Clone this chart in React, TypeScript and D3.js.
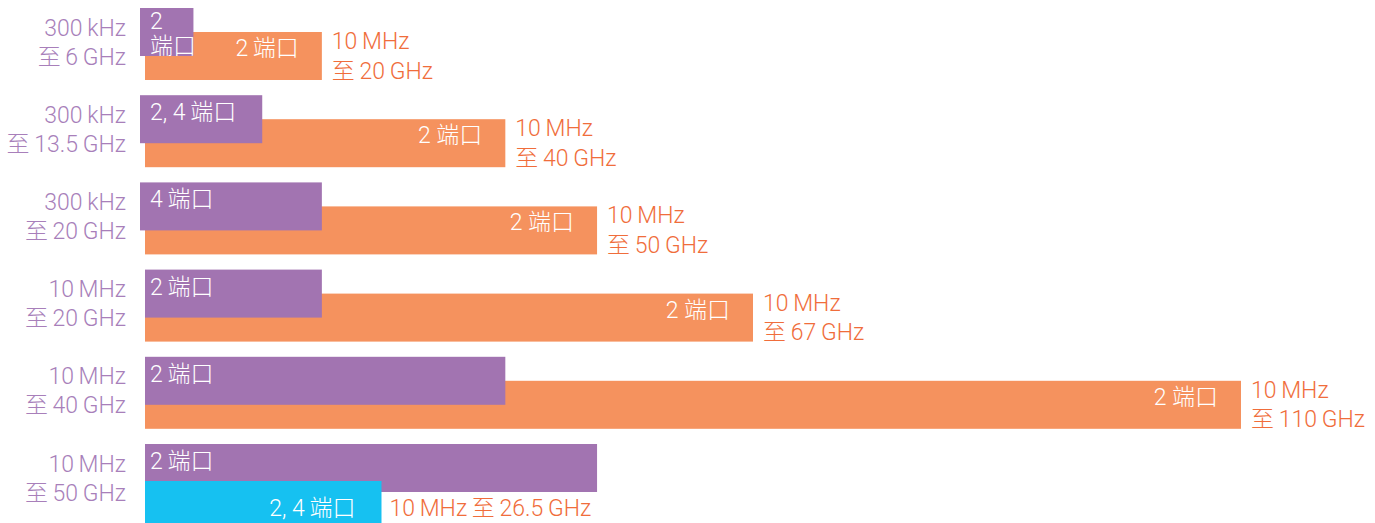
import React from "react";
import * as d3 from "d3";

// ---- data ----
const rowKeys = ["r1", "r2", "r3", "r4", "r5", "r6"];
const purpleStartGHz = [0.0003, 0.0003, 0.0003, 0.01, 0.01, 0.01];
const purpleEndGHz = [6, 13.5, 20, 20, 40, 50];
const purpleRangeLine1 = ["300\u2009kHz", "300\u2009kHz", "300\u2009kHz", "10\u2009MHz", "10\u2009MHz", "10\u2009MHz"];
const purpleRangeLine2 = ["至\u20096\u2009GHz", "至\u200913.5\u2009GHz", "至\u200920\u2009GHz", "至\u200920\u2009GHz", "至\u200940\u2009GHz", "至\u200950\u2009GHz"];
const purplePorts = [["2", "端口"], ["2, 4\u2009端口"], ["4\u2009端口"], ["2\u2009端口"], ["2\u2009端口"], ["2\u2009端口"]];

const orangeStartGHz = [0.01, 0.01, 0.01, 0.01, 0.01];
const orangeEndGHz = [20, 40, 50, 67, 110];
const orangePorts = ["2\u2009端口", "2 端口", "2 端口", "2 端口", "2 端口"];
const orangeRangeLine1 = ["10\u2009MHz", "10\u2009MHz", "10\u2009MHz", "10\u2009MHz", "10\u2009MHz"];
const orangeRangeLine2 = ["至\u200920\u2009GHz", "至\u200940\u2009GHz", "至\u200950\u2009GHz", "至\u200967\u2009GHz", "至\u2009110\u2009GHz"];

const cyanRow = 5;
const cyanStartGHz = 0.01;
const cyanEndGHz = 26.5;
const cyanPorts = "2, 4\u2009端口";
const cyanRange = "10\u2009MHz\u2009至\u200926.5\u2009GHz";

// ---- style ----
const W = 1375;
const H = 523;
const PURPLE = "#a274b1";
const PURPLE_TEXT = "#a87fba";
const ORANGE = "#f5925e";
const ORANGE_TEXT = "#f06d3b";
const CYAN = "#16c1f1";
const BAR_H = 48;
const FONT = "Roboto, 'Noto Sans CJK SC', sans-serif";
const FS = 23;

export default function App() {
  const y = d3.scalePoint<string>().domain(rowKeys).range([8, 444]);
  const xEnd = d3.scaleLinear().domain([0, 67, 110]).range([138.4, 753, 1241]);
  const xStart = d3.scaleLog().domain([0.0003, 0.01]).range([140, 145]);

  const textProps = { fontFamily: FONT, fontWeight: 300, fontSize: FS } as const;

  return (
    <svg
      width={W}
      height={H}
      style={{ position: "absolute", left: 0, top: 0, background: "#fff" }}
    >
      {/* orange bars (below purple) */}
      {orangeEndGHz.map((e, i) => {
        const top = (y(rowKeys[i]) as number) + 24;
        const x0 = xStart(orangeStartGHz[i]);
        return (
          <rect key={"o" + i} x={x0} y={top} width={xEnd(e) - x0} height={BAR_H} fill={ORANGE} />
        );
      })}
      {/* purple bars */}
      {purpleEndGHz.map((e, i) => {
        const top = y(rowKeys[i]) as number;
        const x0 = xStart(purpleStartGHz[i]);
        return (
          <rect key={"p" + i} x={x0} y={top} width={xEnd(e) - x0} height={BAR_H} fill={PURPLE} />
        );
      })}
      {/* cyan bar */}
      {(() => {
        const top = (y(rowKeys[cyanRow]) as number) + 37;
        const x0 = xStart(cyanStartGHz);
        return <rect x={x0} y={top} width={xEnd(cyanEndGHz) - x0} height={BAR_H} fill={CYAN} />;
      })()}

      {/* left labels */}
      {rowKeys.map((k, i) => {
        const top = y(k) as number;
        return (
          <g key={"l" + i} {...textProps} fill={PURPLE_TEXT} textAnchor="end">
            <text x={126} y={top + 27.5}>{purpleRangeLine1[i]}</text>
            <text x={126} y={top + 56.5}>{purpleRangeLine2[i]}</text>
          </g>
        );
      })}

      {/* purple inside labels */}
      {purplePorts.map((lines, i) => {
        const top = y(rowKeys[i]) as number;
        return (
          <g key={"pl" + i} {...textProps} fill="#fff">
            {lines.length === 1 ? (
              <text x={150} y={top + 25}>{lines[0]}</text>
            ) : (
              lines.map((t, j) => (
                <text key={j} x={150} y={top + 21 + j * 25}>{t}</text>
              ))
            )}
          </g>
        );
      })}

      {/* orange labels */}
      {orangeEndGHz.map((e, i) => {
        const top = (y(rowKeys[i]) as number) + 24;
        const xe = xEnd(e);
        return (
          <g key={"ol" + i} {...textProps}>
            <text x={xe - 23} y={top + 24} fill="#fff" textAnchor="end">{orangePorts[i]}</text>
            <text x={xe + 10} y={top + 17} fill={ORANGE_TEXT}>{orangeRangeLine1[i]}</text>
            <text x={xe + 10} y={top + 46.5} fill={ORANGE_TEXT}>{orangeRangeLine2[i]}</text>
          </g>
        );
      })}

      {/* cyan labels */}
      {(() => {
        const top = (y(rowKeys[cyanRow]) as number) + 37;
        const xe = xEnd(cyanEndGHz);
        return (
          <g {...textProps}>
            <text x={xe - 26} y={top + 35} fill="#fff" textAnchor="end">{cyanPorts}</text>
            <text x={xe + 8} y={top + 35} fill={ORANGE_TEXT}>{cyanRange}</text>
          </g>
        );
      })()}
    </svg>
  );
}
